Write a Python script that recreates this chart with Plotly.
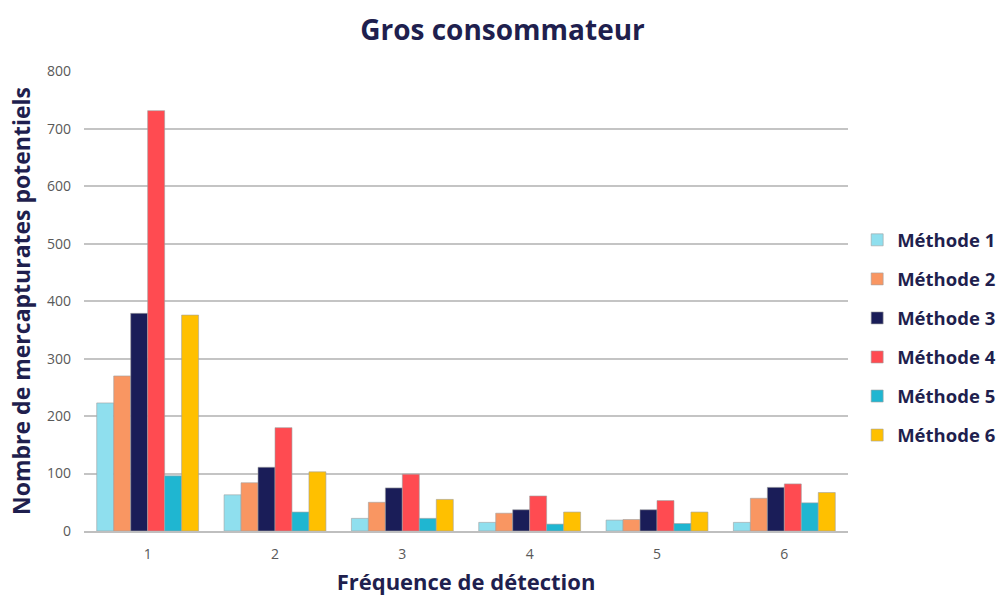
import plotly.graph_objects as go

# Detection frequency categories
frequences = ["1", "2", "3", "4", "5", "6"]

# Number of potential mercapturates per method
methode_1 = [223, 63, 22, 15, 19, 15]
methode_2 = [270, 84, 50, 31, 20, 57]
methode_3 = [379, 111, 75, 37, 37, 76]
methode_4 = [732, 180, 99, 61, 53, 82]
methode_5 = [96, 33, 22, 12, 13, 49]
methode_6 = [376, 103, 55, 33, 33, 67]

noms = ["Méthode 1", "Méthode 2", "Méthode 3", "Méthode 4", "Méthode 5", "Méthode 6"]
series = [methode_1, methode_2, methode_3, methode_4, methode_5, methode_6]
couleurs = ["#8fdfee", "#f99662", "#1a1d58", "#ff4b51", "#1fb6d1", "#ffc000"]

NAVY = "#1f1f4e"
FONT = "Open Sans"

fig = go.Figure()
for i, (nom, vals, c) in enumerate(zip(noms, series, couleurs)):
    fig.add_trace(go.Bar(
        x=frequences, y=vals, name=nom, legendgroup=f"g{i}",
        marker=dict(color=c, line=dict(color="rgba(160,160,160,0.6)", width=1)),
    ))

fig.update_layout(
    width=1001, height=596,
    margin=dict(l=84, r=153, t=71, b=65, autoexpand=False),
    paper_bgcolor="white", plot_bgcolor="white",
    barmode="group", bargap=0.2, bargroupgap=0,
    title=dict(text="<b>Gros consommateur</b>", x=0.502, xanchor="center",
               y=0.95, yanchor="middle",
               font=dict(family=FONT, size=28, color=NAVY)),
    xaxis=dict(
        title=dict(text="<b>Fréquence de détection</b>", standoff=16,
                   font=dict(family=FONT, size=22, color=NAVY)),
        showline=True, linecolor="#bfbfbf", linewidth=1.5,
        tickfont=dict(family=FONT, size=14, color="#595959"),
        ticklabelstandoff=9,
        showgrid=False,
    ),
    yaxis=dict(
        title=dict(text="<b>Nombre de mercapturates potentiels</b>", standoff=9,
                   font=dict(family=FONT, size=23, color=NAVY)),
        range=[0, 801], tickvals=[0, 100, 200, 300, 400, 500, 600, 700, 800],
        showgrid=True, gridcolor="#c4c4c4", gridwidth=1.5,
        zeroline=False, showline=False,
        tickfont=dict(family=FONT, size=14, color="#595959"),
        ticks="", ticklen=0, ticklabelstandoff=12,
    ),
    legend=dict(
        x=1.012, xanchor="left", y=0.42, yanchor="middle",
        font=dict(family=FONT, size=18.5, color=NAVY, weight="bold"),
        tracegroupgap=12, itemwidth=30,
    ),
)

fig.write_html("out.html")
